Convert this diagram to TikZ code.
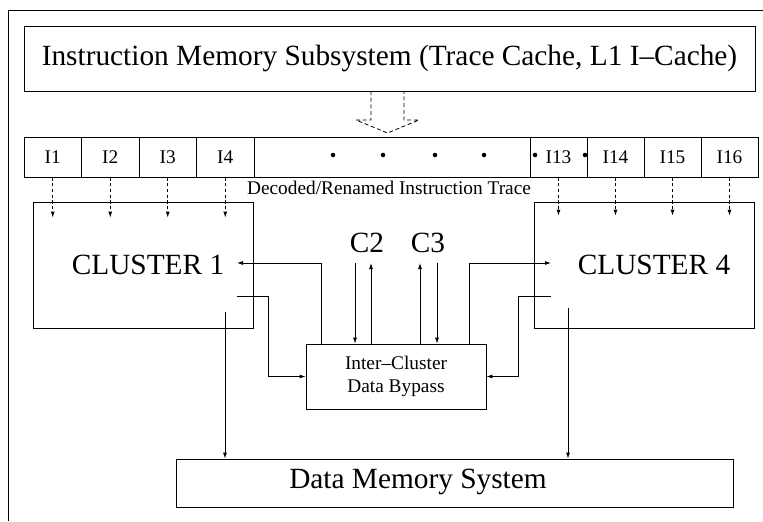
\documentclass[tikz,border=0pt]{standalone}
\usepackage{fontspec}
\setmainfont{Liberation Serif}
\usetikzlibrary{arrows.meta, positioning, calc}

\begin{document}
\begin{tikzpicture}[x=0.75pt, y=-0.75pt,
  box/.style={draw, line width=0.6pt, inner sep=0pt},
  bigtext/.style={font=\fontsize{22}{25}\selectfont},
  smalltext/.style={font=\fontsize{14.5}{17}\selectfont},
  cell/.style={box, smalltext, minimum height=30pt},
  flow/.style={line width=0.6pt, -{Latex[length=4.5pt, width=3pt]}},
  issue/.style={flow, dash pattern=on 2.5pt off 1.8pt},
]
\useasboundingbox (0,0) rectangle (763,521);

% page frame
\draw[line width=0.7pt] (8,521) -- (8,10) -- (763,10);

% Instruction memory
\node[box, bigtext, minimum width=548.25pt, minimum height=48.75pt] (imem) at (389.5,58.5)
{Instruction Memory Subsystem (Trace Cache, L1 I--Cache)};

\draw[line width=0.6pt, dash pattern=on 3pt off 2pt]
     (371,91) -- (371,120) -- (356,120) -- (387.5,133) -- (419,120) -- (404,120) -- (404,91);

% Instruction trace
\node[cell, minimum width=43.125pt] (i1) at (52.75,157) {I1};
\node[cell, minimum width=43.125pt] (i2) at (110.25,157) {I2};
\node[cell, minimum width=43.125pt] (i3) at (167.75,157) {I3};
\node[cell, minimum width=43.125pt] (i4) at (225.25,157) {I4};
\node[cell, minimum width=207pt] (gap) at (392,157) {};
\node[cell, minimum width=42.75pt] (i13) at (558.5,157) {I13};
\node[cell, minimum width=42.75pt] (i14) at (615.5,157) {I14};
\node[cell, minimum width=42.75pt] (i15) at (672.5,157) {I15};
\node[cell, minimum width=42.75pt] (i16) at (729.5,157) {I16};

\fill (333,155) circle (1.7pt);
\fill (383,155) circle (1.7pt);
\fill (435,155) circle (1.7pt);
\fill (484,155) circle (1.7pt);
\fill (535,155) circle (1.7pt);
\fill (585,155) circle (1.7pt);

\node[smalltext] (trace) at (389,188) {Decoded/Renamed Instruction Trace};

% Clusters
\node[box, minimum width=165pt, minimum height=94.5pt] (clone) at (143,265) {};
\node[bigtext] (clonelbl) at (148,265) {CLUSTER 1};
\node[box, minimum width=165pt, minimum height=94.5pt] (cfour) at (644,265) {};
\node[bigtext] (cfourlbl) at (654,265) {CLUSTER 4};

\draw[issue] (i1.south) -- ($(i1.south |- clone.north)+(0,16)$);
\draw[issue] (i2.south) -- ($(i2.south |- clone.north)+(0,16)$);
\draw[issue] (i3.south) -- ($(i3.south |- clone.north)+(0,16)$);
\draw[issue] (i4.south) -- ($(i4.south |- clone.north)+(0,16)$);
\draw[issue] (i13.south) -- ($(i13.south |- cfour.north)+(0,14)$);
\draw[issue] (i14.south) -- ($(i14.south |- cfour.north)+(0,14)$);
\draw[issue] (i15.south) -- ($(i15.south |- cfour.north)+(0,14)$);
\draw[issue] (i16.south) -- ($(i16.south |- cfour.north)+(0,14)$);

% Bypass network
\node[box, smalltext, align=center, minimum width=135pt, minimum height=48.75pt] (bypass) at (396,376.5)
{Inter--Cluster\\Data Bypass};

\node[bigtext] (c2) at (367,243) {C2};
\node[bigtext] (c3) at (428,243) {C3};

\coordinate (c1in) at (237,263);
\coordinate (c1out) at (237,296);
\coordinate (c1mem) at (225,312);
\coordinate (c4in) at (551,263);
\coordinate (c4out) at (551,296);
\coordinate (c4mem) at (568,308);
\coordinate (c2a) at (355,263);
\coordinate (c2b) at (371,263);
\coordinate (c3a) at (420,263);
\coordinate (c3b) at (437,263);

\draw[flow] ($(bypass.north west)+(16,0)$) |- (c1in);
\draw[flow] ($(bypass.north east)+(-17,0)$) |- (c4in);
\draw[flow] (c1out) -| ($(bypass.west)+(-37,0)$) -- (bypass.west);
\draw[flow] (c4out) -| ($(bypass.east)+(32,0)$) -- (bypass.east);

\draw[flow] (c2a) -- (c2a |- bypass.north);
\draw[flow] (c2b |- bypass.north) -- (c2b);
\draw[flow] (c3a |- bypass.north) -- (c3a);
\draw[flow] (c3b) -- (c3b |- bypass.north);

% Data memory
\node[box, minimum width=417.75pt, minimum height=36pt] (dmem) at (454.5,483) {};
\node[bigtext] (dmemlbl) at (418,482) {Data Memory System};

\draw[flow] (c1mem) -- (c1mem |- dmem.north);
\draw[flow] (c4mem) -- (c4mem |- dmem.north);
\end{tikzpicture}
\end{document}
